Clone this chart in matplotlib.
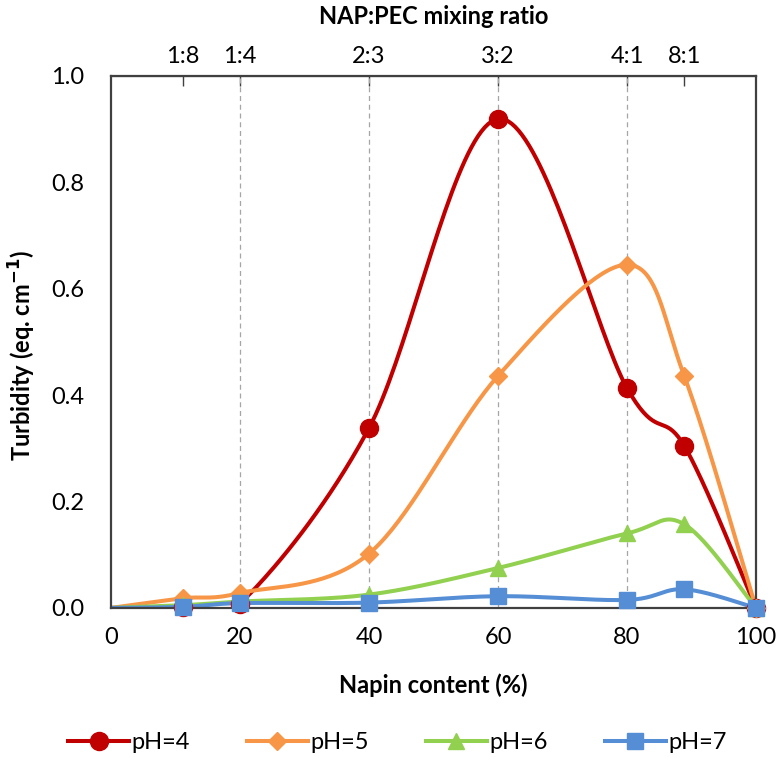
import numpy as np
import matplotlib
matplotlib.use("Agg")
import matplotlib.pyplot as plt

plt.rcParams['font.family'] = ['Lato', 'DejaVu Sans']
plt.rcParams['axes.unicode_minus'] = False

# Napin content (%) and measured turbidity per pH
napin = [0, 11.1, 20, 40, 60, 80, 88.9, 100]
ph4 = [0, 0.002, 0.008, 0.338, 0.919, 0.413, 0.304, 0]
ph5 = [0, 0.018, 0.028, 0.102, 0.436, 0.645, 0.435, 0]
ph6 = [0, 0.005, 0.012, 0.025, 0.075, 0.140, 0.157, 0]
ph7 = [0, 0.002, 0.009, 0.010, 0.022, 0.015, 0.035, 0]

ratio_pos = [11.1, 20, 40, 60, 80, 88.9]
ratio_labels = ["1:8", "1:4", "2:3", "3:2", "4:1", "8:1"]
guide_pos = [20, 40, 60, 80]

series = [
    ("pH=4", ph4, "#C00000", "o", 13),
    ("pH=5", ph5, "#F79646", "D", 9),
    ("pH=6", ph6, "#92D050", "^", 12),
    ("pH=7", ph7, "#558ED5", "s", 12),
]


def smooth(x, y, n=40):
    # Excel-like smoothed line (Catmull-Rom as cubic Bezier)
    x = np.asarray(x, float)
    y = np.asarray(y, float)
    px = np.concatenate([[x[0]], x, [x[-1]]])
    py = np.concatenate([[y[0]], y, [y[-1]]])
    t = np.linspace(0, 1, n)[:, None]
    xs, ys = [], []
    for i in range(1, len(px) - 2):
        p0 = np.array([px[i], py[i]])
        p3 = np.array([px[i + 1], py[i + 1]])
        c1 = p0 + (np.array([px[i + 1], py[i + 1]]) - np.array([px[i - 1], py[i - 1]])) / 6
        c2 = p3 - (np.array([px[i + 2], py[i + 2]]) - np.array([px[i], py[i]])) / 6
        b = (1 - t) ** 3 * p0 + 3 * (1 - t) ** 2 * t * c1 + 3 * (1 - t) * t ** 2 * c2 + t ** 3 * p3
        xs.append(b[:, 0])
        ys.append(b[:, 1])
    return np.concatenate(xs), np.concatenate(ys)


fig = plt.figure(figsize=(7.79, 7.58), dpi=100)
ax = fig.add_axes([0.1425, 0.198, 0.828, 0.702])

for xv in guide_pos:
    ax.axvline(xv, color="#A6A6A6", lw=0.9, ls=(0, (4, 3)), zorder=1)

handles = []
for name, vals, col, mk, ms in series:
    sx, sy = smooth(napin, vals)
    ax.plot(sx, sy, color=col, lw=2.9, zorder=2, solid_capstyle="round")
    ax.plot(napin[1:], vals[1:], ls="none", marker=mk, ms=ms, color=col, zorder=3, clip_on=False)
    h, = ax.plot([], [], color=col, lw=2.9, marker=mk, ms=ms)
    handles.append(h)

ax.set_xlim(0, 100)
ax.set_ylim(0, 1.0)
ax.set_xticks([0, 20, 40, 60, 80, 100])
ax.set_yticks([0, 0.2, 0.4, 0.6, 0.8, 1.0])
ax.set_yticklabels(["0.0", "0.2", "0.4", "0.6", "0.8", "1.0"])
ax.tick_params(axis="x", length=0, labelsize=17, pad=14, colors="black")
ax.tick_params(axis="y", length=0, labelsize=17, pad=19, colors="black")
for s in ax.spines.values():
    s.set_color("#404040")
    s.set_linewidth(1.6)

ax.set_xlabel("Napin content (%)", fontsize=17, fontweight="bold", labelpad=18)
ax.set_ylabel("Turbidity (eq. cm$^{\\mathbf{-1}}$)", fontsize=17, fontweight="bold")
ax.yaxis.set_label_coords(-0.113, 0.474)

top = ax.secondary_xaxis("top")
top.set_xticks(ratio_pos)
top.set_xticklabels(ratio_labels)
top.tick_params(direction="in", length=7, width=1, colors="#404040", labelcolor="black",
                labelsize=17, pad=6)
top.set_xlabel("NAP:PEC mixing ratio", fontsize=17, fontweight="bold", labelpad=16)

fig.legend(handles, [s[0] for s in series], loc="lower center", ncol=4, frameon=False,
           fontsize=17, bbox_to_anchor=(0.51, -0.022), handlelength=2.6, columnspacing=2.4,
           handletextpad=0.1)

fig.savefig("out.png", dpi=100)
